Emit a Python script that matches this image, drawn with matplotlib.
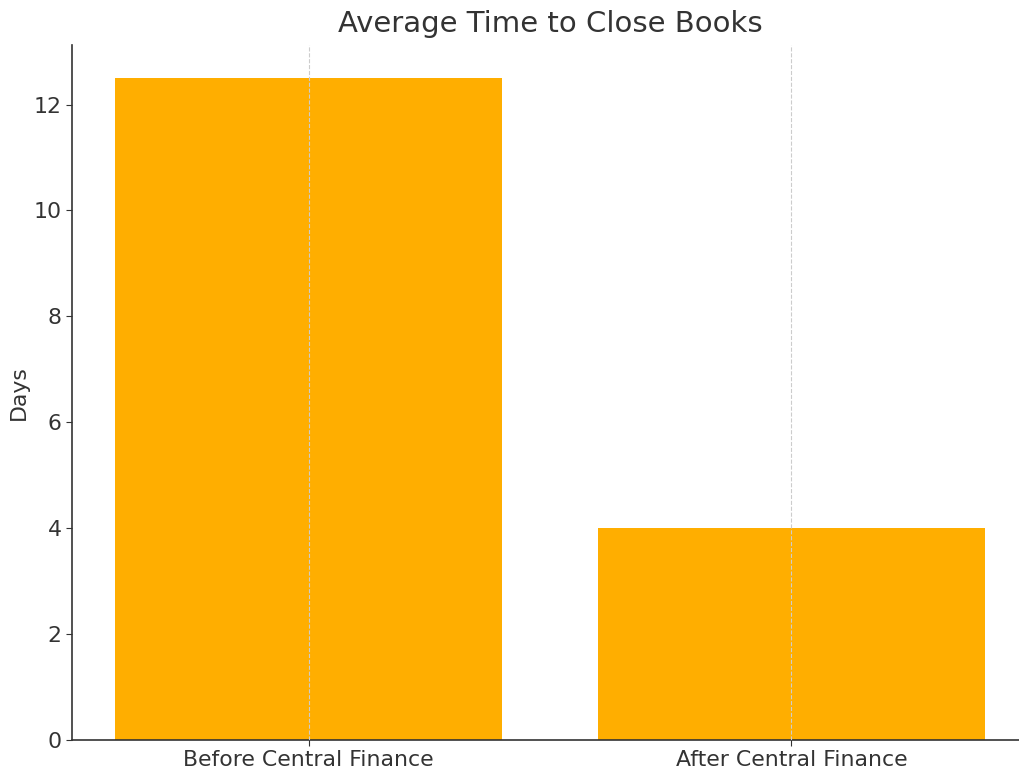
import matplotlib.pyplot as plt

categories = ["Before Central Finance", "After Central Finance"]
days = [12.5, 4]

fig = plt.figure(figsize=(10.2, 7.69), dpi=100)
ax = fig.add_axes([72/1020, 29/769, 956/1020, 695/769])
ax.bar(categories, days, color="#FFAE00", width=0.8)
ax.set_xlim(-0.49, 1.49)
ax.set_ylim(0, 13.125)
ax.grid(axis="x", linestyle="--", color="#cccccc", linewidth=0.8)
ax.set_axisbelow(False)
for s in ["top", "right"]:
    ax.spines[s].set_visible(False)
for s in ["left", "bottom"]:
    ax.spines[s].set_color("#333333")
    ax.spines[s].set_linewidth(1.2)
ax.tick_params(colors="#333333", labelsize=15.8, labelcolor="#333333", length=4)
ax.set_ylabel("Days", fontsize=15.8, color="#333333", labelpad=3)
ax.set_title("Average Time to Close Books", fontsize=21, color="#333333", pad=9)
fig.savefig("out.png", dpi=100)
